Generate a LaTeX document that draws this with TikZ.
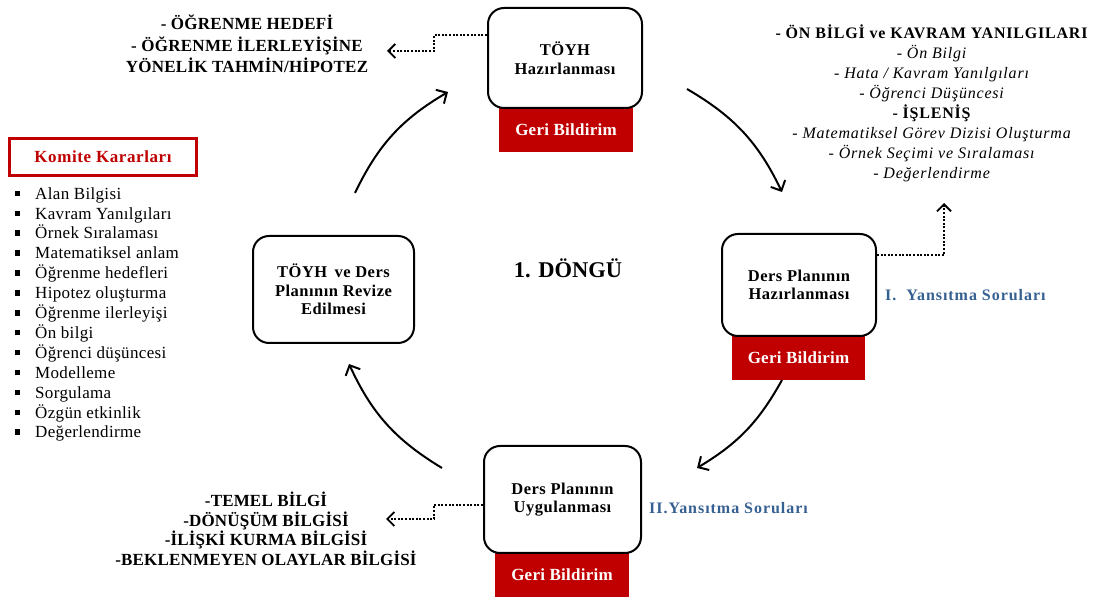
\documentclass[tikz,border=0pt]{standalone}
\usepackage{fontspec}
\setmainfont{Liberation Serif}
\usetikzlibrary{arrows.meta}
\definecolor{gbred}{HTML}{C00000}
\definecolor{qblue}{HTML}{366092}
\newcommand{\sqbullet}{\makebox[21pt][l]{\hspace*{0.5pt}\raisebox{3pt}{\rule{5pt}{5.5pt}}}}
\newcommand{\spaced}[1]{\addfontfeature{LetterSpace=#1}}

\begin{document}
\begin{tikzpicture}[x=1pt,y=1pt,
  stage/.style={draw,line width=2pt,rounded corners=16pt,fill=white,align=center,
    font=\bfseries\fontsize{16.5}{18.5}\selectfont\spaced{3},inner sep=0pt},
  feedback/.style={fill=gbred,text=white,font=\bfseries\fontsize{17}{19}\selectfont\spaced{1.5},
    minimum width=134pt,minimum height=44pt,inner sep=0pt},
  cyc/.style={line width=2pt,-{Straight Barb[length=8pt,width=16pt,line width=2pt]}},
  link/.style={line width=2pt,dash pattern=on 2pt off 1.6pt,
    -{Straight Barb[length=7pt,width=14pt,line width=1.8pt]}},
  heading/.style={align=center,font=\bfseries\fontsize{17}{21.5}\selectfont\spaced{1.5},inner sep=0pt},
  question/.style={anchor=west,text=qblue,font=\bfseries\fontsize{16}{18}\selectfont\spaced{6},inner sep=0pt}
]
\useasboundingbox (0,0) rectangle (1098,597);

% feedback bars under the stage boxes
\node[feedback] (fb1) at (566,467) {Geri Bildirim};
\node[feedback,minimum width=133pt] (fb2) at (798.5,239) {Geri Bildirim};
\node[feedback] (fb3) at (562,22) {Geri Bildirim};

% cycle stages
\node[stage,minimum width=154pt,minimum height=100pt] (toyh) at (565,539) {TÖYH\\Hazırlanması};
\node[stage,minimum width=154pt,minimum height=102pt] (haz) at (799,312) {Ders Planının\\Hazırlanması};
\node[stage,minimum width=157pt,minimum height=107pt] (uyg) at (562.5,97.5) {Ders Planının\\Uygulanması};
\node[stage,minimum width=161pt,minimum height=107pt] (rev) at (333.5,307.5) {TÖYH\, ve Ders\\Planının Revize\\Edilmesi};

\node[font=\bfseries\fontsize{22.5}{24}\selectfont] (cycle) at (568,329) {1. DÖNGÜ};

% curved arrows of the cycle
\coordinate (c1s) at (355,404); \coordinate (c1e) at (448,505);
\coordinate (c2s) at (687,508); \coordinate (c2e) at (782,405);
\coordinate (c3s) at (782,217); \coordinate (c3e) at (697,129);
\coordinate (c4s) at (442,129); \coordinate (c4e) at (349,233);
\draw[cyc] (c1s) to[bend left=17] (c1e);
\draw[cyc] (c2s) to[bend left=17] (c2e);
\draw[cyc] (c3s) to[bend left=15] (c3e);
\draw[cyc] (c4s) to[bend left=17] (c4e);

% outcome texts
\node[heading] (goals) at (247,553) {- ÖĞRENME HEDEFİ\\- ÖĞRENME İLERLEYİŞİNE\\YÖNELİK TAHMİN/HİPOTEZ};
\node[align=center,inner sep=0pt,font=\fontsize{16}{20}\selectfont\spaced{5}] (prep) at (932,494)
  {\textbf{- ÖN BİLGİ ve KAVRAM YANILGILARI}\\
   \textit{- Ön Bilgi}\\
   \textit{- Hata / Kavram Yanılgıları}\\
   \textit{- Öğrenci Düşüncesi}\\
   \textbf{- İŞLENİŞ}\\
   \textit{- Matematiksel Görev Dizisi Oluşturma}\\
   \textit{- Örnek Seçimi ve Sıralaması}\\
   \textit{- Değerlendirme}};
\node[heading,font=\bfseries\fontsize{17}{19.5}\selectfont\spaced{1}] (know) at (266,68)
  {-TEMEL BİLGİ\\-DÖNÜŞÜM BİLGİSİ\\-İLİŞKİ KURMA BİLGİSİ\\-BEKLENMEYEN OLAYLAR BİLGİSİ};

\node[question] (q1) at (885,302) {I.\ \ Yansıtma Soruları};
\node[question] (q2) at (649,89) {II.Yansıtma Soruları};

% dotted links to the outcome texts
\coordinate (g1) at (387,546);
\coordinate (g2) at (944,394);
\coordinate (g3) at (386,78);
\draw[link] (toyh.west |- 0,562) -- (434,562) -- (434,546) -- (g1);
\draw[link] (haz.east |- 0,342) -- (944,342) -- (g2);
\draw[link] (uyg.west |- 0,92) -- (434,92) -- (434,78) -- (g3);

% committee decisions
\node[draw=gbred,line width=2.5pt,minimum width=187pt,minimum height=37pt,inner sep=0pt,
  text=gbred,font=\bfseries\fontsize{17}{19}\selectfont\spaced{3.5}] (komite) at (103,440) {Komite Kararları};
\node[anchor=west,align=left,inner sep=0pt,font=\fontsize{17}{19.9}\selectfont\spaced{2}] (list) at (14,282.5)
  {\sqbullet Alan Bilgisi\\
   \sqbullet Kavram Yanılgıları\\
   \sqbullet Örnek Sıralaması\\
   \sqbullet Matematiksel anlam\\
   \sqbullet Öğrenme hedefleri\\
   \sqbullet Hipotez oluşturma\\
   \sqbullet Öğrenme ilerleyişi\\
   \sqbullet Ön bilgi\\
   \sqbullet Öğrenci düşüncesi\\
   \sqbullet Modelleme\\
   \sqbullet Sorgulama\\
   \sqbullet Özgün etkinlik\\
   \sqbullet Değerlendirme};
\end{tikzpicture}
\end{document}
